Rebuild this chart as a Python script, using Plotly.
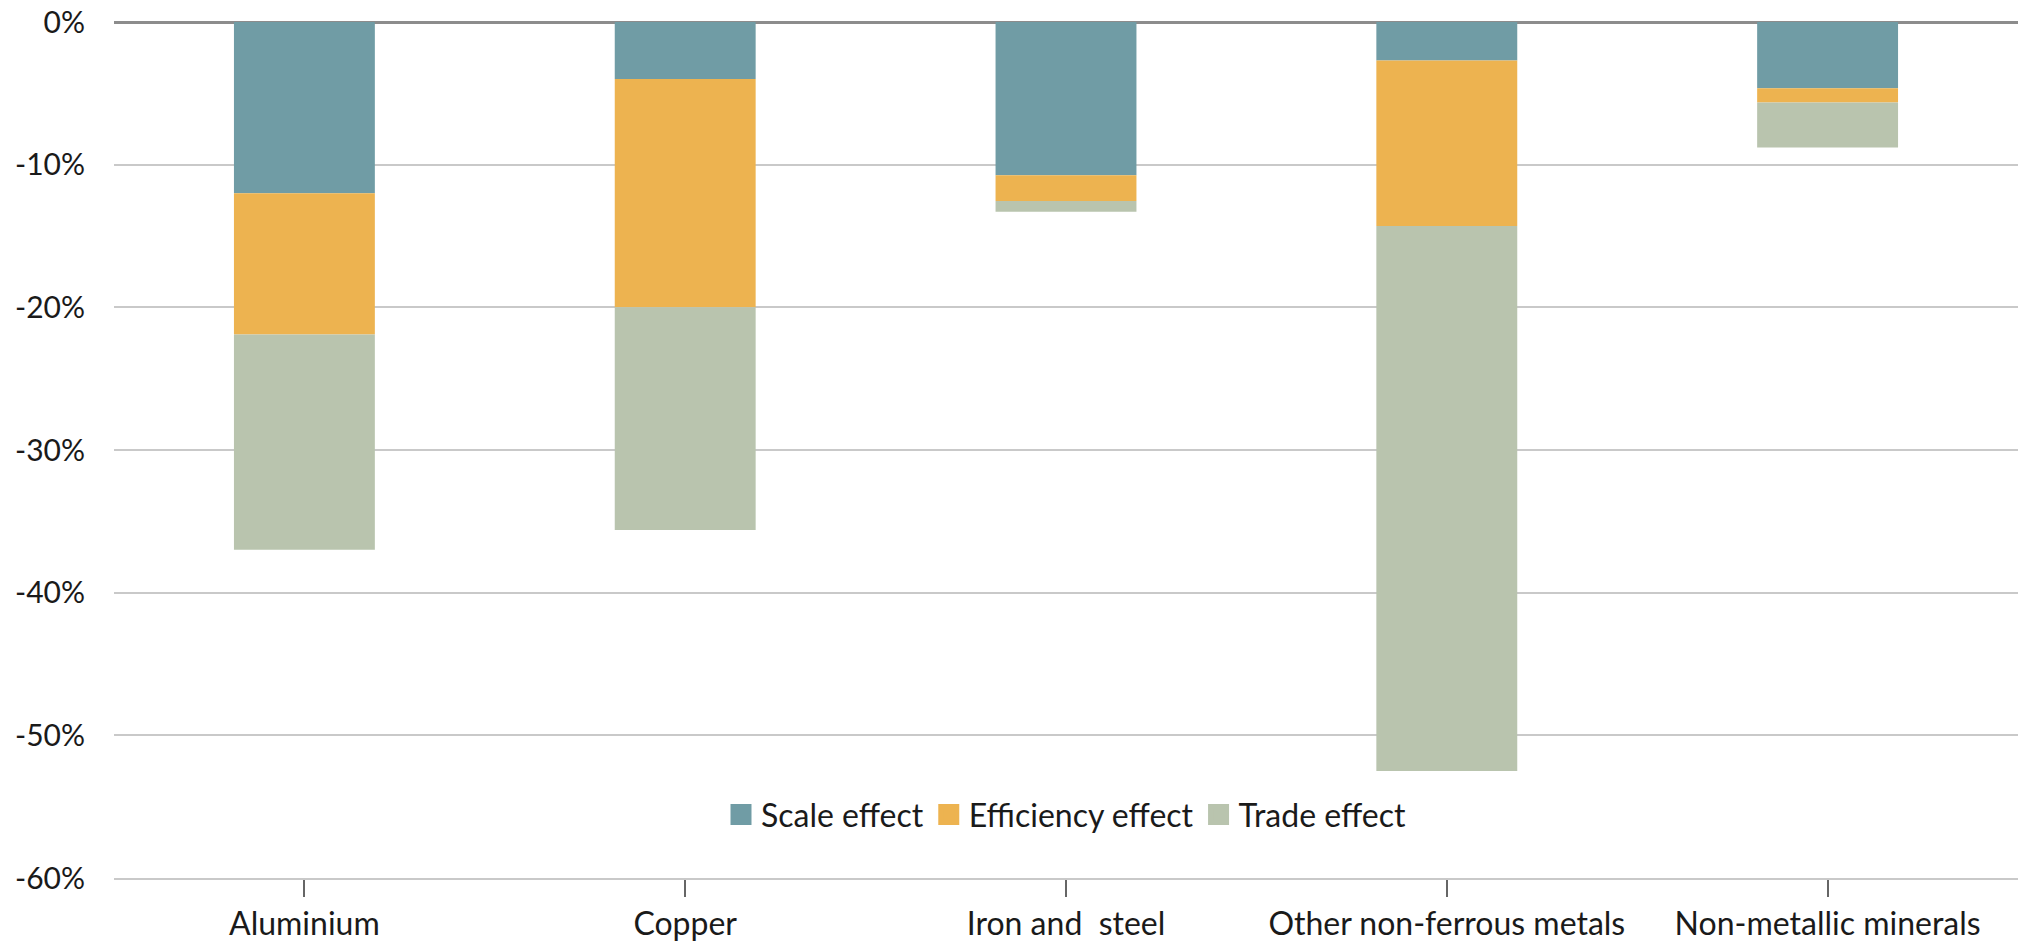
import plotly.graph_objects as go

categories = ["Aluminium", "Copper", "Iron and\u00a0 steel", "Other non-ferrous metals", "Non-metallic minerals"]
scale_effect = [-12.0, -4.0, -10.75, -2.7, -4.65]
efficiency_effect = [-9.9, -16.0, -1.8, -11.6, -1.0]
trade_effect = [-15.1, -15.6, -0.75, -38.2, -3.15]
series_names = ["Scale effect", "Efficiency effect", "Trade effect"]
colors = ["#709CA5", "#EDB350", "#B9C4AE"]
y_tickvals = [0, -10, -20, -30, -40, -50, -60]
y_ticktext = ["0%", "-10%", "-20%", "-30%", "-40%", "-50%", "-60%"]

FONT = "Lato"
TEXT = "#1a1a1a"

fig = go.Figure()
for name, vals, col in zip(series_names, [scale_effect, efficiency_effect, trade_effect], colors):
    fig.add_trace(go.Bar(x=categories, y=vals, name=name, marker=dict(color=col, line=dict(width=0)),
                         width=0.37, showlegend=False))
    # legend proxy with larger square swatch
    fig.add_trace(go.Scatter(x=[None], y=[None], mode="markers", name=name,
                             marker=dict(symbol="square", size=16, color=col, line=dict(color=col, width=6)),
                             showlegend=True))

fig.update_layout(
    width=2022, height=943,
    margin=dict(l=114, r=4, t=22, b=65),
    paper_bgcolor="white", plot_bgcolor="white",
    barmode="relative",
    font=dict(family=FONT, color=TEXT, size=32),
    legend=dict(orientation="h", x=0.5, xanchor="center", y=0.074, yanchor="middle",
                font=dict(family=FONT, size=32, color=TEXT), bgcolor="rgba(0,0,0,0)",
                itemwidth=30, traceorder="normal"),
    xaxis=dict(showgrid=False, showline=True, linecolor="#c9c9c9", linewidth=2, zeroline=False,
               ticks="outside", ticklen=17, tickwidth=2, tickcolor="#666666", automargin=False,
               tickfont=dict(family=FONT, size=32, color=TEXT), ticklabelstandoff=0),
    yaxis=dict(range=[-60, 0], tickvals=y_tickvals, ticktext=y_ticktext, automargin=False,
               showgrid=True, gridcolor="#c9c9c9", gridwidth=2,
               zeroline=True, zerolinecolor="#8c8c8c", zerolinewidth=3,
               showline=False, ticks="", tickfont=dict(family=FONT, size=30, color=TEXT),
               ticklabelstandoff=28),
)

fig.write_html("out.html")
